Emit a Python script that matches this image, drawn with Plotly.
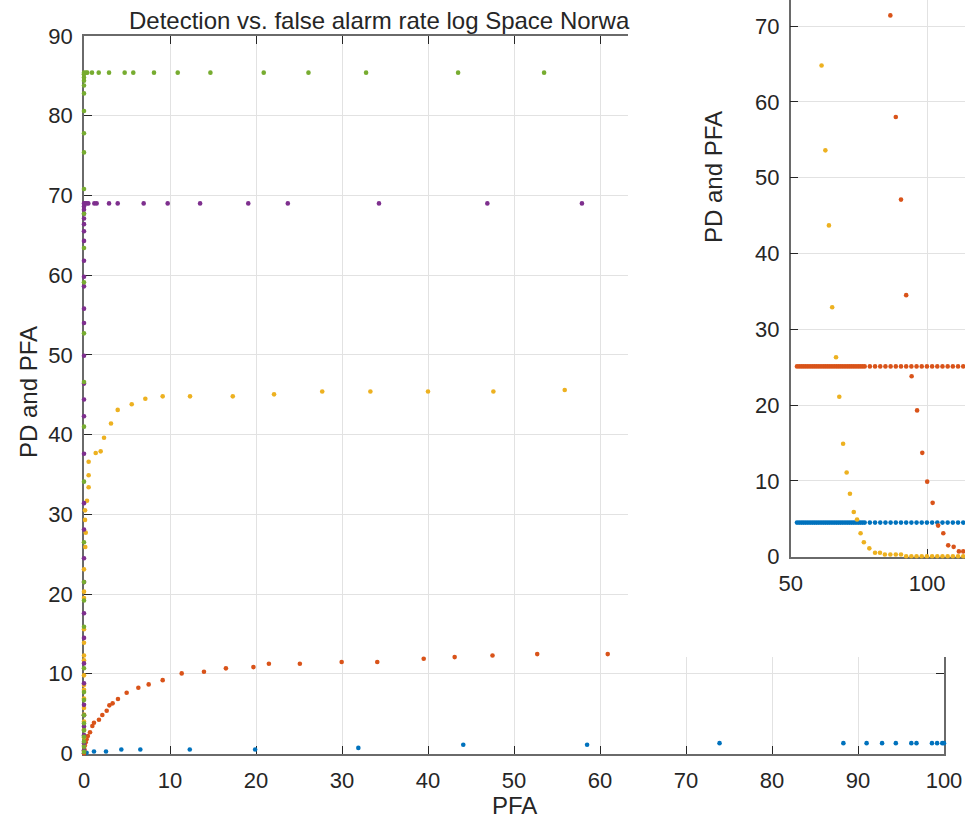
import plotly.graph_objects as go

# ---------------- data: main axes (PFA vs PD) ----------------
blue_pfa = [0, 0.3, 1.16, 2.56, 4.34, 6.55, 12.3, 19.9, 31.9, 44.1, 58.5, 73.9,
            88.3, 91.0, 92.8, 94.4, 96.2, 96.8, 98.6, 99.2, 99.8, 100]
blue_pd = [0, 0.1, 0.25, 0.25, 0.5, 0.5, 0.5, 0.5, 0.7, 1.1, 1.1, 1.3,
           1.3, 1.3, 1.3, 1.3, 1.3, 1.3, 1.3, 1.3, 1.3, 1.3]

red_pfa = [0.0, 0.05, 0.1, 0.2, 0.3, 0.45, 0.7, 0.97, 1.16, 1.74, 2.13, 2.64, 2.95,
           3.33, 3.95, 4.96, 6.32, 7.52, 9.15, 11.36, 13.95, 16.5, 19.7, 21.5, 25.1,
           29.96, 34.1, 39.5, 43.1, 47.5, 52.7, 60.9]
red_pd = [0.0, 0.5, 1.0, 1.4, 1.8, 2.2, 2.66, 3.45, 3.86, 4.24, 4.83, 5.37, 6.04,
          6.29, 6.83, 7.62, 8.25, 8.67, 9.2, 10.05, 10.25, 10.68, 10.84, 11.25, 11.25,
          11.47, 11.47, 11.88, 12.09, 12.3, 12.47, 12.47]

yellow_pfa = [0, 0, 0, 0, 0, 0, 0, 0, 0, 0, 0, 0, 0, 0, 0, 0, 0, 0,
              0.15, 0.2, 0.12, 0.12, 0.35, 0.54, 0.54, 0.54, 1.36, 1.94, 2.33, 3.14,
              3.92, 5.55, 7.13, 9.15, 12.33, 17.3, 22.1, 27.7, 33.3, 40.0, 47.6, 55.9]
yellow_pd = [0.3, 1.0, 2.0, 3.0, 4.0, 4.9, 5.7, 6.9, 8.0, 8.6, 9.8, 11.7, 12.3, 13.9,
             15.6, 19.5, 20.3, 23.1,
             25.9, 27.7, 29.3, 30.5, 31.7, 33.4, 34.9, 36.6, 37.7, 37.9, 39.6, 41.4,
             43.1, 43.8, 44.5, 44.8, 44.8, 44.8, 45.05, 45.4, 45.4, 45.4, 45.4, 45.6]

purple_pfa = [0] * 31 + [0, 0.12, 0.31, 0.5, 1.2, 1.47, 2.91, 3.92, 6.94, 9.73,
                         13.5, 19.1, 23.7, 34.3, 46.9, 57.9]
purple_pd = [0.4, 1.3, 2.3, 3.4, 4.8, 6.1, 8.8, 11.3, 14.5, 17.6, 21.5, 24.5, 28.1,
             31.4, 37.6, 42.3, 44.4, 46.4, 49.9, 54.0, 55.8, 58.6, 59.8, 61.8, 64.3,
             65.5, 66.4, 67.1, 67.7, 68.2, 68.6,
             69.0, 69.0, 69.0, 69.0, 69.0, 69.0, 69.0, 69.0, 69.0, 69.0,
             69.0, 69.0, 69.0, 69.0, 69.0, 69.0]

green_pfa = [0] * 30 + [0, 0.23, 0.38, 0.93, 1.71, 2.91, 4.73, 5.73, 8.14, 10.9,
                        14.7, 20.9, 26.1, 32.8, 43.5, 53.5]
green_pd = [0.2, 0.85, 1.5, 2.1, 2.9, 3.8, 4.8, 6.7, 7.7, 10.7, 15.9, 19.2, 21.5,
            26.5, 34.1, 41.0, 46.6, 52.7, 59.1, 63.4, 67.7, 70.8, 75.4, 77.8, 80.6,
            82.8, 83.8, 84.4, 84.8, 85.2,
            85.4, 85.4, 85.4, 85.4, 85.4, 85.4, 85.4, 85.4, 85.4, 85.4,
            85.4, 85.4, 85.4, 85.4, 85.4, 85.4]

# ---------------- data: inset axes ----------------
inset_x = [52.3, 53.1, 53.9, 54.7, 55.5, 56.3, 57.1, 57.9, 58.7, 59.5, 60.3, 61.1,
           61.9, 62.7, 63.5, 64.3, 65.1, 65.9, 66.7, 67.5, 68.3, 69.1, 69.9, 70.7,
           71.5, 72.3, 73.1, 73.9, 74.7, 75.5, 76.3, 77.1,
           79.0, 80.9, 82.8, 84.7, 86.6, 88.5, 90.4, 92.3, 94.2, 96.1, 98.0, 99.9,
           101.8, 103.7, 105.6, 107.5, 109.4, 111.3, 113.2]
inset_blue = [4.5, 4.5, 4.5, 4.5, 4.5, 4.5, 4.5, 4.5, 4.5, 4.5, 4.5, 4.5,
              4.5, 4.5, 4.5, 4.5, 4.5, 4.5, 4.5, 4.5, 4.5, 4.5, 4.5, 4.5,
              4.5, 4.5, 4.5, 4.5, 4.5, 4.5, 4.5, 4.5,
              4.5, 4.5, 4.5, 4.5, 4.5, 4.5, 4.5, 4.5, 4.5, 4.5, 4.5, 4.5,
              4.5, 4.5, 4.5, 4.5, 4.5, 4.5, 4.5]
inset_red_flat = [25.1, 25.1, 25.1, 25.1, 25.1, 25.1, 25.1, 25.1, 25.1, 25.1, 25.1, 25.1,
                  25.1, 25.1, 25.1, 25.1, 25.1, 25.1, 25.1, 25.1, 25.1, 25.1, 25.1, 25.1,
                  25.1, 25.1, 25.1, 25.1, 25.1, 25.1, 25.1, 25.1,
                  25.1, 25.1, 25.1, 25.1, 25.1, 25.1, 25.1, 25.1, 25.1, 25.1, 25.1, 25.1,
                  25.1, 25.1, 25.1, 25.1, 25.1, 25.1, 25.1]
inset_red_drop_x = [86.5, 88.5, 90.4, 92.3, 94.3, 96.3, 98.2, 100.0, 102.0, 104.0,
                    105.9, 107.7, 109.7, 111.6, 113.2]
inset_red_drop_y = [71.4, 58.0, 47.1, 34.5, 23.8, 19.3, 13.7, 9.9, 7.1, 4.1,
                    3.1, 1.5, 1.3, 0.7, 0.7]
inset_yellow_x = [61.3, 62.7, 64.0, 65.2, 66.6, 67.8, 69.2, 70.5, 71.7, 73.1, 74.3,
                  75.6, 76.8, 78.8, 80.9, 82.7, 84.5, 86.5, 88.5, 90.4, 92.3, 94.2,
                  96.1, 98.0, 99.9, 101.8, 103.7, 105.6, 107.5, 109.4, 111.3, 113.2]
inset_yellow_y = [64.8, 53.6, 43.7, 32.9, 26.3, 21.1, 14.9, 11.1, 8.3, 5.9, 4.9,
                  3.1, 1.9, 1.1, 0.53, 0.53, 0.3, 0.3, 0.3, 0.3, 0.05, 0.05,
                  0.05, 0.05, 0.05, 0.05, 0.05, 0.05, 0.05, 0.05, 0.05, 0.05]

main_title = "Detection vs. false alarm rate log Space Norwa"
y_label = "PD and PFA"
x_label = "PFA"

# ---------------- style ----------------
W, H = 965, 820
C_BLUE, C_RED, C_YEL, C_PUR, C_GRN = "#0072BD", "#D95319", "#EDB120", "#7E2F8E", "#77AC30"
TXT = "#262626"
AXC = "#6a6a6a"
GRID = "#e2e2e2"
FONT = "Liberation Sans"
MS = 4.6


def px_x(p):
    return p / W


def px_y(p):
    return 1 - p / H


fig = go.Figure()


def dots(x, y, color, xa, ya):
    fig.add_trace(go.Scatter(x=x, y=y, mode="markers", xaxis=xa, yaxis=ya,
                             marker=dict(color=color, size=MS, line=dict(width=0)),
                             cliponaxis=False, hoverinfo="skip", showlegend=False))


# main axes
dots(blue_pfa, blue_pd, C_BLUE, "x", "y")
dots(red_pfa, red_pd, C_RED, "x", "y")
dots(yellow_pfa, yellow_pd, C_YEL, "x", "y")
dots(purple_pfa, purple_pd, C_PUR, "x", "y")
dots(green_pfa, green_pd, C_GRN, "x", "y")

# white outer box of the second axes covering part of the first
fig.add_trace(go.Scatter(x=[-0.1, 1.1, 1.1, -0.1, -0.1], y=[-0.1, -0.1, 1.1, 1.1, -0.1],
                         mode="lines", fill="toself", fillcolor="white",
                         line=dict(width=0, color="white"), xaxis="x2", yaxis="y2",
                         hoverinfo="skip", showlegend=False))

# inset axes
dots(inset_x, inset_blue, C_BLUE, "x3", "y3")
dots(inset_x, inset_red_flat, C_RED, "x3", "y3")
dots(inset_red_drop_x, inset_red_drop_y, C_RED, "x3", "y3")
dots(inset_yellow_x, inset_yellow_y, C_YEL, "x3", "y3")

axis_common = dict(showline=True, linecolor=AXC, linewidth=1.5, ticks="inside",
                   ticklen=8, tickwidth=1.2, tickcolor=TXT, showgrid=True,
                   gridcolor=GRID, gridwidth=1, zeroline=False, automargin=False,
                   tickfont=dict(family=FONT, size=22, color=TXT),
                   layer="below traces")

fig.update_layout(
    template="none",
    width=W, height=H,
    margin=dict(l=0, r=0, t=0, b=0, pad=0, autoexpand=False),
    paper_bgcolor="white", plot_bgcolor="white",
    showlegend=False,
    xaxis=dict(domain=[px_x(84), px_x(944)], range=[0, 100], dtick=10, tick0=0,
               mirror="ticks", anchor="y", ticklabelstandoff=6, **axis_common),
    yaxis=dict(domain=[px_y(753.5), px_y(36)], range=[0, 90], dtick=10, tick0=0,
               mirror="ticks", anchor="x", ticklabelstandoff=5, **axis_common),
    xaxis2=dict(domain=[px_x(628), 1], range=[0, 1], visible=False, anchor="y2"),
    yaxis2=dict(domain=[px_y(657), 1], range=[0, 1], visible=False, anchor="x2"),
    xaxis3=dict(domain=[px_x(790.7), 1], range=[50, 113.85], dtick=50, tick0=50,
                anchor="y3", ticklabelstandoff=6, **axis_common),
    yaxis3=dict(domain=[px_y(556.7), 1], range=[0, 73.43], dtick=10, tick0=0,
                anchor="x3", ticklabelstandoff=5, **axis_common),
)

ann_font = dict(family=FONT, size=24, color=TXT)
fig.add_annotation(text=main_title, xref="paper", yref="paper", x=px_x(128), y=px_y(20),
                   xanchor="left", yanchor="middle", showarrow=False, font=ann_font,
                   borderpad=0)
fig.add_annotation(text=y_label, xref="paper", yref="paper", x=px_x(28), y=px_y(392),
                   xanchor="center", yanchor="middle", textangle=-90, showarrow=False,
                   font=ann_font, borderpad=0)
fig.add_annotation(text=x_label, xref="paper", yref="paper", x=px_x(514), y=px_y(805),
                   xanchor="center", yanchor="middle", showarrow=False, font=ann_font,
                   borderpad=0)
fig.add_annotation(text=y_label, xref="paper", yref="paper", x=px_x(714), y=px_y(177),
                   xanchor="center", yanchor="middle", textangle=-90, showarrow=False,
                   font=ann_font, borderpad=0)

fig.write_html(
    "out.html",
    post_script="document.body.style.margin='0';document.body.style.padding='0';"
                "document.documentElement.style.overflow='hidden';"
                "document.body.style.overflow='hidden';",
)
